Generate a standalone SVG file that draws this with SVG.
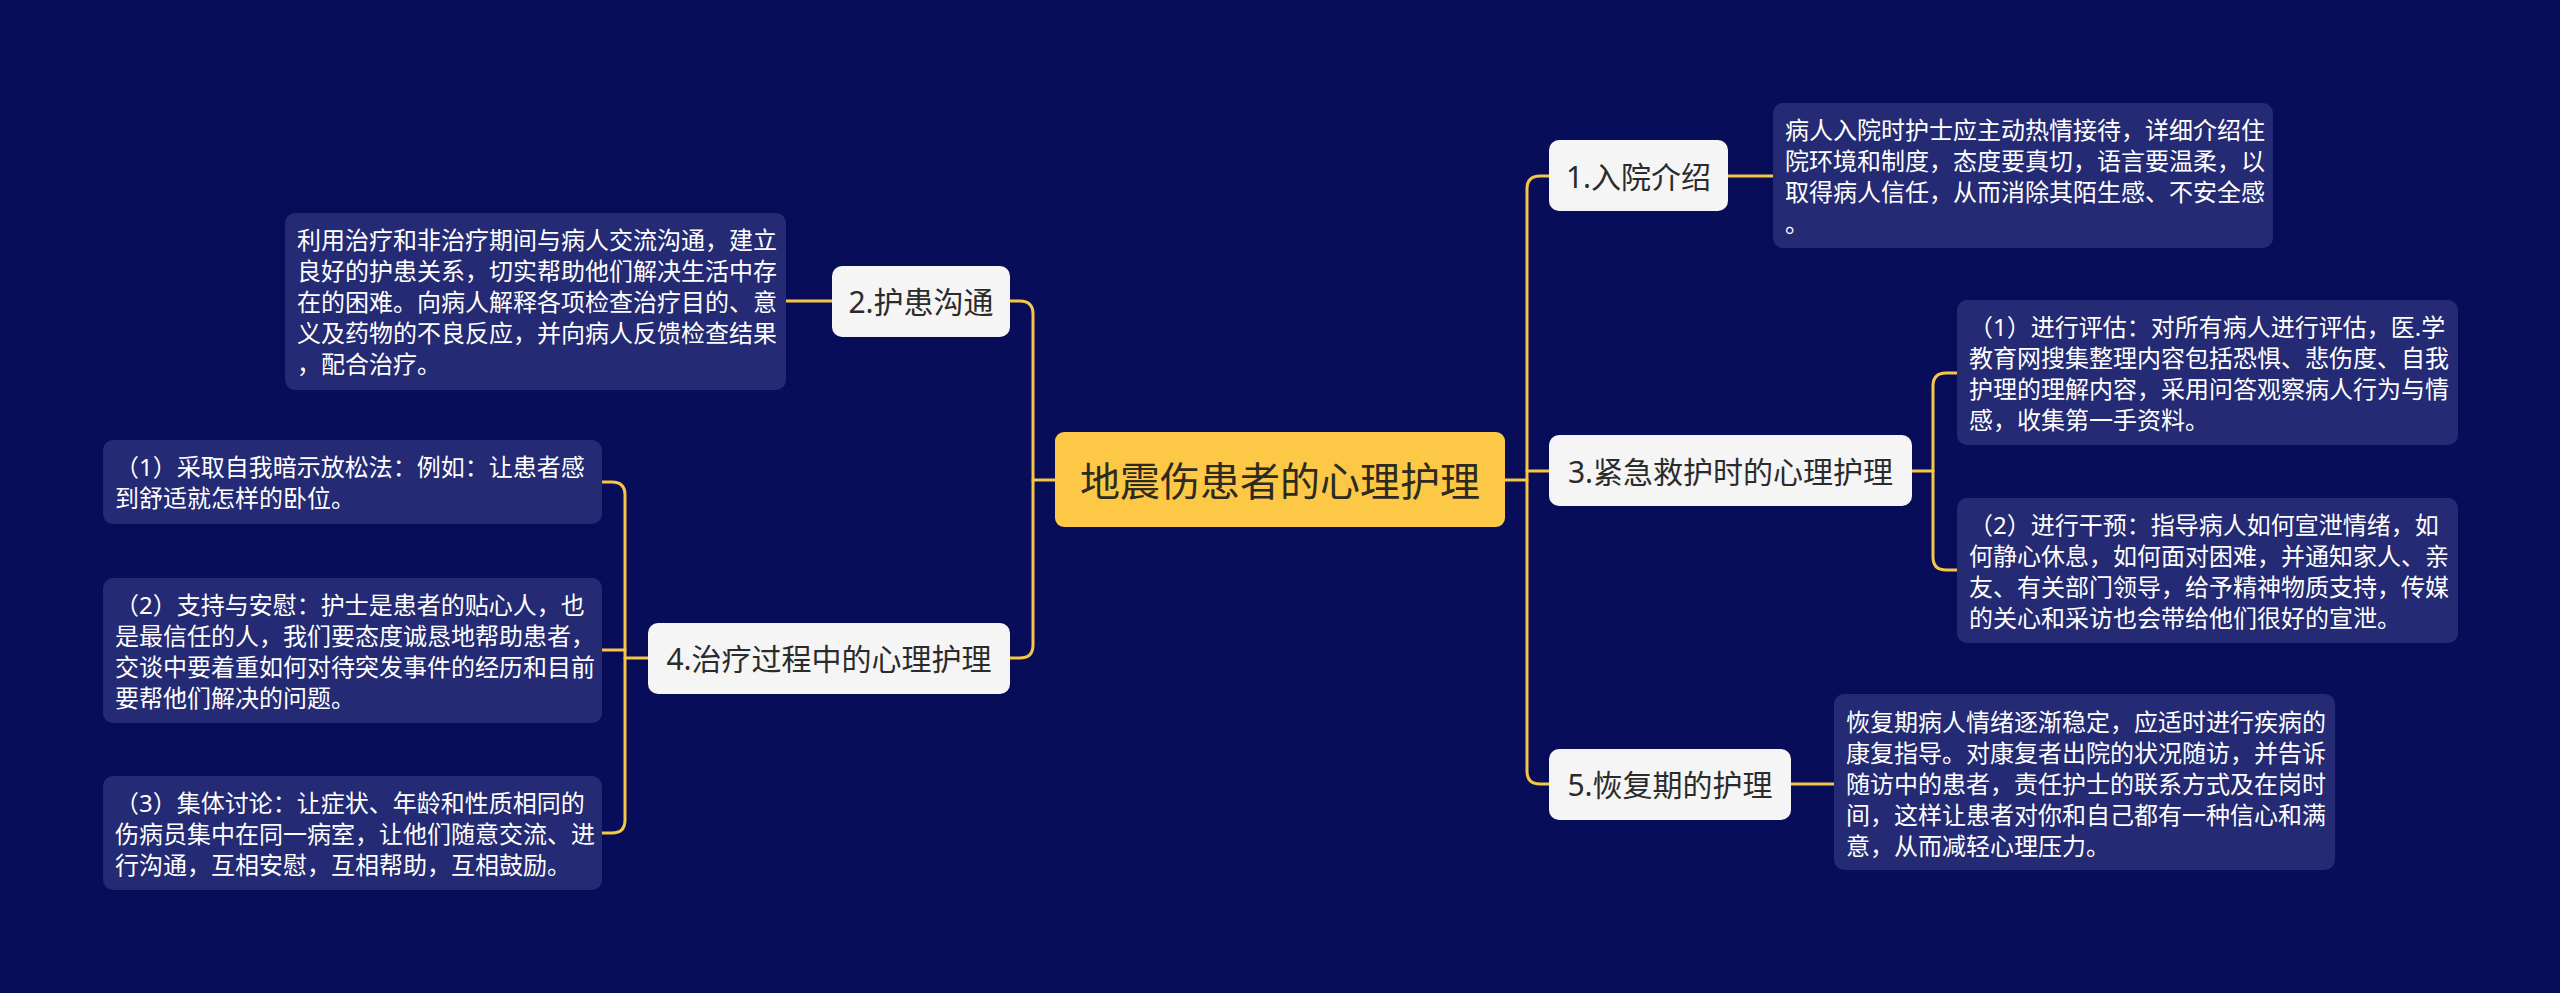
<svg xmlns="http://www.w3.org/2000/svg" width="2560" height="993" viewBox="0 0 2560 993">
<style>
.bg{fill:#080d5a}
.root{fill:#fcc845}
.n1{fill:#f5f5f5}
.leaf{fill:#242a73}
.t{font-family:"Noto Sans","Noto Sans CJK SC",sans-serif;dominant-baseline:central}
.rt{font-size:40px;fill:#2d2a22;text-anchor:middle}
.nt{font-size:30px;fill:#2b2b2b;text-anchor:middle}
.lt{font-size:24px;fill:#ffffff}
.c{fill:none;stroke:#f6c744;stroke-width:3;stroke-linecap:round}
</style>
<rect class="bg" x="0" y="0" width="2560" height="993"/>
<g id="connectors">
<path class="c" d="M1505,480 H1527"/>
<path class="c" d="M1549,176 H1540 Q1527,176 1527,189 V771 Q1527,784 1540,784 H1549"/>
<path class="c" d="M1527,471 H1549"/>
<path class="c" d="M1728,176 H1773"/>
<path class="c" d="M1912,471 H1933"/>
<path class="c" d="M1957,373 H1946 Q1933,373 1933,386 V557 Q1933,570 1946,570 H1957"/>
<path class="c" d="M1791,784 H1834"/>
<path class="c" d="M1055,480 H1033"/>
<path class="c" d="M1010,301 H1020 Q1033,301 1033,314 V645 Q1033,658 1020,658 H1010"/>
<path class="c" d="M832,301 H786"/>
<path class="c" d="M648,658 H625"/>
<path class="c" d="M602,482 H612 Q625,482 625,495 V820 Q625,833 612,833 H602"/>
<path class="c" d="M602,650 H625"/>
</g>
<g id="root">
<rect class="root" x="1055" y="432" width="450" height="95" rx="9"/>
<text class="t rt" x="1280" y="480">地震伤患者的心理护理</text>
</g>
<g id="n1">
<rect class="n1" x="1549" y="140" width="179" height="71" rx="10"/>
<text class="t nt" x="1638.5" y="176">1.入院介绍</text>
</g>
<g id="n1-leaf">
<rect class="leaf" x="1773" y="103" width="500" height="145" rx="10"/>
<text class="t lt" x="1785"><tspan x="1785" y="129">病人入院时护士应主动热情接待，详细介绍住</tspan><tspan x="1785" y="160">院环境和制度，态度要真切，语言要温柔，以</tspan><tspan x="1785" y="191">取得病人信任，从而消除其陌生感、不安全感</tspan><tspan x="1785" y="222">。</tspan></text>
</g>
<g id="n2">
<rect class="n1" x="832" y="266" width="178" height="71" rx="10"/>
<text class="t nt" x="921" y="301">2.护患沟通</text>
</g>
<g id="n2-leaf">
<rect class="leaf" x="285" y="213" width="501" height="177" rx="10"/>
<text class="t lt"><tspan x="297" y="239">利用治疗和非治疗期间与病人交流沟通，建立</tspan><tspan x="297" y="270">良好的护患关系，切实帮助他们解决生活中存</tspan><tspan x="297" y="301">在的困难。向病人解释各项检查治疗目的、意</tspan><tspan x="297" y="332">义及药物的不良反应，并向病人反馈检查结果</tspan><tspan x="297" y="363">，配合治疗。</tspan></text>
</g>
<g id="n3">
<rect class="n1" x="1549" y="435" width="363" height="71" rx="10"/>
<text class="t nt" x="1730.5" y="471">3.紧急救护时的心理护理</text>
</g>
<g id="n3-leaf1">
<rect class="leaf" x="1957" y="300" width="501" height="145" rx="10"/>
<text class="t lt"><tspan x="1969" y="326">（1）进行评估：对所有病人进行评估，医.学</tspan><tspan x="1969" y="357">教育网搜集整理内容包括恐惧、悲伤度、自我</tspan><tspan x="1969" y="388">护理的理解内容，采用问答观察病人行为与情</tspan><tspan x="1969" y="419">感，收集第一手资料。</tspan></text>
</g>
<g id="n3-leaf2">
<rect class="leaf" x="1957" y="498" width="501" height="145" rx="10"/>
<text class="t lt"><tspan x="1969" y="524">（2）进行干预：指导病人如何宣泄情绪，如</tspan><tspan x="1969" y="555">何静心休息，如何面对困难，并通知家人、亲</tspan><tspan x="1969" y="586">友、有关部门领导，给予精神物质支持，传媒</tspan><tspan x="1969" y="617">的关心和采访也会带给他们很好的宣泄。</tspan></text>
</g>
<g id="n4">
<rect class="n1" x="648" y="623" width="362" height="71" rx="10"/>
<text class="t nt" x="829" y="658">4.治疗过程中的心理护理</text>
</g>
<g id="n4-leaf1">
<rect class="leaf" x="103" y="440" width="499" height="84" rx="10"/>
<text class="t lt"><tspan x="115" y="466">（1）采取自我暗示放松法：例如：让患者感</tspan><tspan x="115" y="497">到舒适就怎样的卧位。</tspan></text>
</g>
<g id="n4-leaf2">
<rect class="leaf" x="103" y="578" width="499" height="145" rx="10"/>
<text class="t lt"><tspan x="115" y="604">（2）支持与安慰：护士是患者的贴心人，也</tspan><tspan x="115" y="635">是最信任的人，我们要态度诚恳地帮助患者，</tspan><tspan x="115" y="666">交谈中要着重如何对待突发事件的经历和目前</tspan><tspan x="115" y="697">要帮他们解决的问题。</tspan></text>
</g>
<g id="n4-leaf3">
<rect class="leaf" x="103" y="776" width="499" height="114" rx="10"/>
<text class="t lt"><tspan x="115" y="802">（3）集体讨论：让症状、年龄和性质相同的</tspan><tspan x="115" y="833">伤病员集中在同一病室，让他们随意交流、进</tspan><tspan x="115" y="864">行沟通，互相安慰，互相帮助，互相鼓励。</tspan></text>
</g>
<g id="n5">
<rect class="n1" x="1549" y="749" width="242" height="71" rx="10"/>
<text class="t nt" x="1670" y="784">5.恢复期的护理</text>
</g>
<g id="n5-leaf">
<rect class="leaf" x="1834" y="694" width="501" height="176" rx="10"/>
<text class="t lt"><tspan x="1846" y="721">恢复期病人情绪逐渐稳定，应适时进行疾病的</tspan><tspan x="1846" y="752">康复指导。对康复者出院的状况随访，并告诉</tspan><tspan x="1846" y="783">随访中的患者，责任护士的联系方式及在岗时</tspan><tspan x="1846" y="814">间，这样让患者对你和自己都有一种信心和满</tspan><tspan x="1846" y="845">意，从而减轻心理压力。</tspan></text>
</g>
</svg>
